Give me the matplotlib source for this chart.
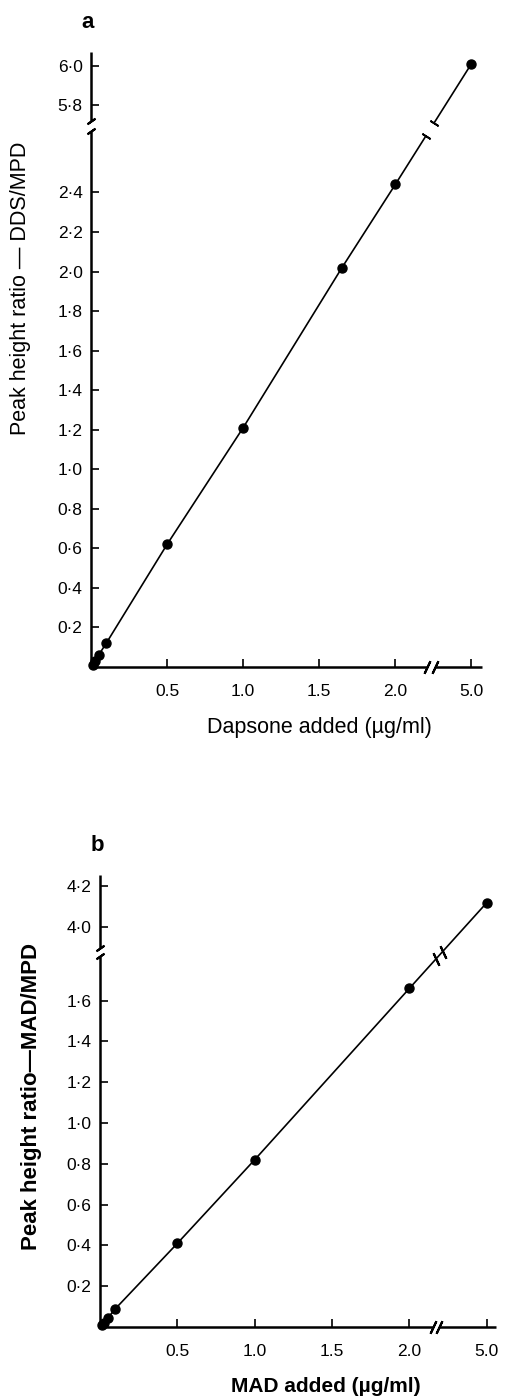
import numpy as np
import matplotlib.pyplot as plt

plt.rcParams['font.family'] = ['Liberation Sans', 'DejaVu Sans']

# panel a: dapsone
dds_added = [0.01, 0.025, 0.05, 0.1, 0.5, 1.0, 1.65, 2.0, 5.0]
dds_ratio = [0.012, 0.03, 0.06, 0.12, 0.62, 1.21, 2.02, 2.44, 6.01]
dds_yticks = [0.2, 0.4, 0.6, 0.8, 1.0, 1.2, 1.4, 1.6, 1.8, 2.0, 2.2, 2.4, 5.8, 6.0]

# panel b: MAD
mad_added = [0.01, 0.025, 0.05, 0.1, 0.5, 1.0, 2.0, 5.0]
mad_ratio = [0.008, 0.02, 0.044, 0.09, 0.41, 0.82, 1.66, 4.12]
mad_yticks = [0.2, 0.4, 0.6, 0.8, 1.0, 1.2, 1.4, 1.6, 4.0, 4.2]

xticks = [0.5, 1.0, 1.5, 2.0, 5.0]
xticklabels = ['0.5', '1.0', '1.5', '2.0', '5.0']

W, H = 505, 1397
fig = plt.figure(figsize=(W / 100, H / 100), dpi=100)


def px_axes(left, right, top, bottom):
    return fig.add_axes([left / W, 1 - bottom / H, (right - left) / W, (bottom - top) / H])


def make_break(lo, hi, shift):
    # values between lo and hi get squeezed into a tiny gap
    top = hi - shift

    def fwd(v):
        v = np.asarray(v, float)
        mid = lo + (v - lo) * (top - lo) / (hi - lo)
        return np.where(v <= lo, v, np.where(v >= hi, v - shift, mid))

    def inv(w):
        w = np.asarray(w, float)
        mid = lo + (w - lo) * (hi - lo) / (top - lo)
        return np.where(w <= lo, w, np.where(w >= top, w + shift, mid))

    return fwd, inv


def draw_panel(ax, xs, ys, xb, yb, xlim, ylim, xaxis_parts, yaxis_parts,
               yticks, gap, style):
    fx, ix = make_break(*xb)
    fy, iy = make_break(*yb)
    ax.set_xscale('function', functions=(fx, ix))
    ax.set_yscale('function', functions=(fy, iy))
    ax.set_xlim(*xlim)
    ax.set_ylim(*ylim)
    for s in ax.spines.values():
        s.set_visible(False)

    # axis lines with breaks
    (x0, x1), (x2, x3) = xaxis_parts
    (y0, y1), (y2, y3) = yaxis_parts
    kw = dict(color='k', lw=1.8, clip_on=False, solid_capstyle='butt')
    ax.plot([x0, x1], [0, 0], **kw)
    ax.plot([x2, x3], [0, 0], **kw)
    ax.plot([0, 0], [y0, y1], **kw)
    ax.plot([0, 0], [y2, y3], **kw)
    ax.plot([x1, x2], [0, 0], marker=(2, 2, -25), color='k', ls='none',
            markersize=10, markeredgewidth=1.5, clip_on=False)
    ax.plot([0, 0], [y1, y2], marker=(2, 2, -55), markersize=7,
            color='k', ls='none', markeredgewidth=1.5, clip_on=False)

    # data line, with a break between the last two points
    sx = fx([xs[-2], xs[-1]])
    sy = fy([ys[-2], ys[-1]])
    t = np.array(gap)
    bx = ix(sx[0] + t * (sx[1] - sx[0]))
    by = iy(sy[0] + t * (sy[1] - sy[0]))
    lkw = dict(color='k', lw=1.2, clip_on=False)
    if style == 'gap':
        ax.plot(list(xs[:-1]) + [bx[0]], list(ys[:-1]) + [by[0]], **lkw)
        ax.plot([bx[1], xs[-1]], [by[1], ys[-1]], **lkw)
        d = ax.transData.transform(list(zip([xs[-2], xs[-1]], [ys[-2], ys[-1]])))
        ang = np.degrees(np.arctan2(d[1, 1] - d[0, 1], d[1, 0] - d[0, 0]))
        ax.plot(bx, by, ls='none', marker=(2, 2, ang), markersize=7,
                markeredgewidth=1.3, color='k', clip_on=False)
    else:
        ax.plot(xs, ys, **lkw)
        ax.plot(bx, by, ls='none', marker=(2, 2, 25), markersize=10,
                markeredgewidth=1.5, color='k', clip_on=False)
    ax.plot(xs, ys, 'o', color='k', markersize=6.5, clip_on=False)

    ax.set_xticks(xticks)
    ax.set_xticklabels(xticklabels)
    ax.set_yticks(yticks)
    ax.set_yticklabels([f'{v:.1f}'.replace('.', '\u00b7') for v in yticks])
    ax.minorticks_off()
    ax.tick_params(direction='in', length=6, width=1.2, labelsize=12.5)
    ax.tick_params(axis='x', pad=12)
    ax.tick_params(axis='y', pad=6)


ax_a = px_axes(91, 482, 52, 667)
draw_panel(ax_a, dds_added, dds_ratio,
           (2.22, 4.74, 2.5), (2.73, 5.70, 2.96),
           (0, 5.07), (0, 6.07),
           [(0, 2.21), (4.76, 5.07)], [(0, 2.71), (5.72, 6.07)],
           dds_yticks, [0.4, 0.51], 'gap')

ax_b = px_axes(100, 496, 875, 1327)
draw_panel(ax_b, mad_added, mad_ratio,
           (2.16, 4.68, 2.5), (1.83, 3.88, 2.04),
           (0, 5.06), (0, 4.256),
           [(0, 2.15), (4.69, 5.06)], [(0, 1.82), (3.90, 4.256)],
           mad_yticks, [0.34, 0.43], 'marks')

fig.text(88 / W, 1 - 22 / H, 'a', fontsize=16, fontweight='bold', ha='center', va='center')
fig.text(97 / W, 1 - 845 / H, 'b', fontsize=16, fontweight='bold', ha='center', va='center')

fig.text(21 / W, 1 - 288 / H, 'Peak height ratio \u2014 DDS/MPD', rotation=90,
         fontsize=15.5, ha='center', va='center')
fig.text(319 / W, 1 - 727 / H, 'Dapsone added (\u00b5g/ml)', fontsize=15.5,
         ha='center', va='center')
fig.text(32 / W, 1 - 1097 / H, 'Peak height ratio\u2014MAD/MPD', rotation=90,
         fontsize=16, fontweight='bold', ha='center', va='center')
fig.text(326 / W, 1 - 1387 / H, 'MAD added (\u00b5g/ml)', fontsize=15,
         fontweight='bold', ha='center', va='center')

fig.savefig('out.png', dpi=100)
